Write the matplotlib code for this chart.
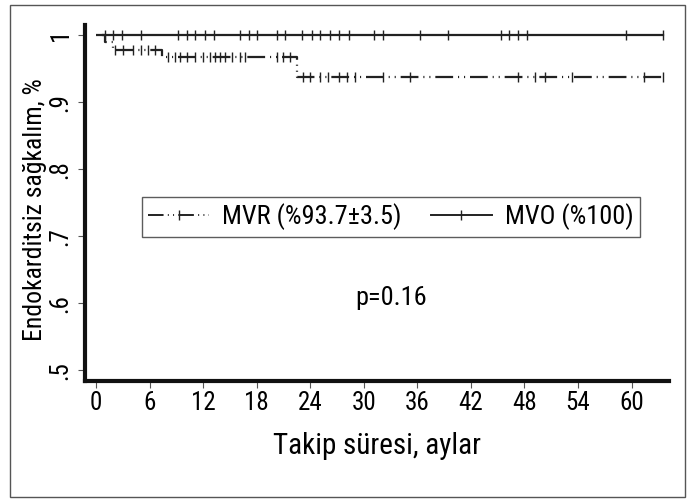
import matplotlib
matplotlib.use("Agg")
import matplotlib.pyplot as plt
from matplotlib import font_manager
from matplotlib.lines import Line2D
from matplotlib.patches import Rectangle

# ---- data ----
mvr_times = [0.0, 1.0, 1.9, 7.4, 22.5, 63.5]
mvr_surv = [1.0, 0.989, 0.978, 0.967, 0.937, 0.937]
mvr_censor_t = [2.1, 3.0, 4.2, 5.1, 5.8, 6.6,
                8.1, 8.9, 9.4, 10.2, 11.1, 12.0, 12.8, 13.3, 13.9, 14.5, 15.2, 16.1, 16.7,
                20.3, 21.0, 21.7,
                23.2, 24.0, 25.1, 26.0, 27.2, 28.1, 29.0, 32.2, 35.2, 47.3, 49.2, 50.3,
                53.3, 61.4, 63.5]
mvo_times = [0.8, 63.5]
mvo_surv = [1.0, 1.0]
mvo_censor_t = [1.0, 1.9, 2.9, 5.1, 9.2, 10.2, 11.1, 12.2, 13.2, 16.1, 17.1, 18.0,
                20.3, 21.2, 23.1, 24.2, 25.1, 26.2, 27.2, 28.3, 31.1, 32.2, 36.3,
                39.4, 45.4, 46.3, 47.3, 48.3, 59.4, 63.5]
xticks = [0, 6, 12, 18, 24, 30, 36, 42, 48, 54, 60]
yticks = [0.5, 0.6, 0.7, 0.8, 0.9, 1.0]
ytick_labels = [".5", ".6", ".7", ".8", ".9", "1"]
labels = ["MVR (%93.7±3.5)", "MVO (%100)"]
xlabel = "Takip süresi, aylar"
ylabel = "Endokarditsiz sağkalım, %"
ptext = "p=0.16"

names = {f.name for f in font_manager.fontManager.ttflist}
fam = "DejaVu Sans"
for cand in ["Liberation Sans Narrow", "Roboto Condensed", "Open Sans Condensed", "Liberation Sans"]:
    if cand in names:
        fam = cand
        break
plt.rcParams["font.family"] = [fam, "DejaVu Sans"]

def surv_at(t, times, surv):
    val = surv[0]
    for ti, si in zip(times, surv):
        if t >= ti:
            val = si
    return val

fig = plt.figure(figsize=(6.92, 5.01), dpi=100)
fig.patches.append(Rectangle((10 / 692, 1 - 497 / 501), 675 / 692, 492 / 501,
                             transform=fig.transFigure, fill=False,
                             edgecolor="#555555", linewidth=1.0))
ax = fig.add_axes([85 / 692, 1 - 381 / 501, 584 / 692, 356 / 501])

mvr_ls = (0, (8, 2.2, 0.5, 2.2, 0.5, 2.2))
ax.step(mvo_times, mvo_surv, where="post", color="#222222", lw=1.6)
ax.step(mvr_times, mvr_surv, where="post", color="#222222", lw=1.6, linestyle=mvr_ls)
ax.plot(mvo_censor_t, [surv_at(t, mvo_times, mvo_surv) for t in mvo_censor_t],
        linestyle="none", marker="|", markersize=7, mew=1.0, color="#222222")
ax.plot(mvr_censor_t, [surv_at(t, mvr_times, mvr_surv) for t in mvr_censor_t],
        linestyle="none", marker="|", markersize=7, mew=1.0, color="#222222")

ax.set_xlim(-1.23, 64.2)
ax.set_ylim(0.484, 1.015)
ax.set_xticks(xticks)
ax.set_yticks(yticks)
ax.set_yticklabels(ytick_labels, rotation=90, va="center")
ax.tick_params(axis="both", labelsize=18, length=5, width=0.8, color="#555555")
ax.tick_params(axis="x", pad=2)
ax.tick_params(axis="y", pad=4)
for s in ["top", "right"]:
    ax.spines[s].set_visible(False)
for s in ["left", "bottom"]:
    ax.spines[s].set_linewidth(3)
    ax.spines[s].set_color("#111111")
ax.set_xlabel(xlabel, fontsize=21)
ax.set_ylabel(ylabel, fontsize=18.5)
ax.xaxis.set_label_coords(0.50, -0.183)
ax.yaxis.set_label_coords(-0.0856, 0.48)
ax.xaxis.label.set_va("center")
ax.yaxis.label.set_va("center")

ax.text(0.524, 0.233, ptext, transform=ax.transAxes, fontsize=19, ha="center", va="center")

handles = [Line2D([], [], color="#222222", lw=1.4, linestyle=mvr_ls, marker="|", markersize=7),
           Line2D([], [], color="#222222", lw=1.4, marker="|", markersize=7)]
leg = ax.legend(handles, labels, loc="center", bbox_to_anchor=(0.524, 0.461), ncol=2,
                fontsize=19, handlelength=2.3, columnspacing=1.1, handletextpad=0.5,
                numpoints=1, frameon=True, fancybox=False, borderpad=0.25,
                borderaxespad=0)
leg.get_frame().set_edgecolor("#333333")
leg.get_frame().set_linewidth(1.0)

fig.savefig("out.png", dpi=100)
